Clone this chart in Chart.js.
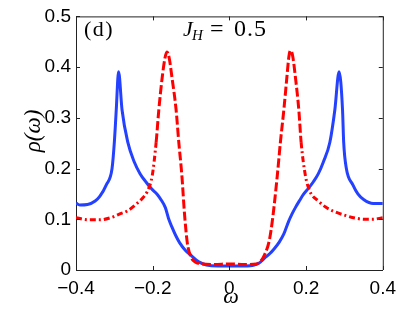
<!DOCTYPE html>
<html>
<head>
<meta charset="utf-8">
<script src="https://cdn.jsdelivr.net/npm/chart.js@4/dist/chart.umd.min.js"></script>
<style>
  html, body { margin: 0; padding: 0; background: #fff; }
  #wrap { width: 403px; height: 330px; }
</style>
</head>
<body>
<div id="wrap"><canvas id="c" width="403" height="330"></canvas></div>
<script>
// density of states, J_H = 0.5
const blueW = [-0.40, -0.39, -0.37, -0.35, -0.338, -0.321, -0.306, -0.300, -0.295, -0.289, -0.280, -0.265, -0.248, -0.233, -0.218, -0.203, -0.188, -0.177, -0.167, -0.158, -0.15, -0.14, -0.13, -0.115, -0.10, -0.08, -0.06, -0.03, 0, 0.03, 0.06, 0.07, 0.08, 0.091, 0.105, 0.117, 0.13, 0.142, 0.155, 0.163, 0.172, 0.183, 0.193, 0.206, 0.219, 0.232, 0.245, 0.262, 0.275, 0.286, 0.295, 0.298, 0.305, 0.322, 0.335, 0.35, 0.375, 0.40];
const blueRho = [0.132, 0.128, 0.129, 0.136, 0.145, 0.168, 0.20, 0.252, 0.316, 0.391, 0.316, 0.252, 0.213, 0.19, 0.174, 0.16, 0.149, 0.137, 0.123, 0.100, 0.085, 0.068, 0.054, 0.039, 0.029, 0.016, 0.010, 0.008, 0.008, 0.008, 0.009, 0.011, 0.015, 0.023, 0.032, 0.042, 0.055, 0.071, 0.097, 0.11, 0.123, 0.137, 0.149, 0.161, 0.174, 0.19, 0.213, 0.252, 0.316, 0.391, 0.316, 0.252, 0.20, 0.168, 0.150, 0.139, 0.131, 0.131];

const redW = [-0.40, -0.37, -0.338, -0.31, -0.287, -0.265, -0.244, -0.225, -0.214, -0.201, -0.191, -0.184, -0.175, -0.168, -0.163, -0.157, -0.150, -0.139, -0.132, -0.124, -0.117, -0.110, -0.102, -0.09, -0.07, -0.04, 0, 0.04, 0.07, 0.08, 0.091, 0.104, 0.112, 0.125, 0.133, 0.142, 0.150, 0.155, 0.159, 0.165, 0.172, 0.181, 0.187, 0.198, 0.210, 0.232, 0.251, 0.271, 0.305, 0.33, 0.355, 0.374, 0.40];
const redRho = [0.103, 0.099, 0.099, 0.103, 0.110, 0.117, 0.129, 0.143, 0.155, 0.187, 0.252, 0.316, 0.381, 0.418, 0.430, 0.418, 0.381, 0.316, 0.252, 0.187, 0.110, 0.055, 0.029, 0.016, 0.012, 0.011, 0.012, 0.011, 0.012, 0.016, 0.029, 0.058, 0.097, 0.187, 0.252, 0.316, 0.381, 0.420, 0.433, 0.422, 0.381, 0.316, 0.252, 0.187, 0.155, 0.136, 0.124, 0.116, 0.107, 0.102, 0.100, 0.100, 0.103];

const xTicks = [-0.4, -0.2, 0, 0.2, 0.4];
const yTicks = [0, 0.1, 0.2, 0.3, 0.4, 0.5];

function pts(w, r) {
  return w.map((x, i) => ({ x: x, y: r[i] }));
}
function fmt(v) {
  const r = Math.round(v * 10) / 10;
  if (r === 0) return '0';
  return (r < 0 ? '\u2212' : '') + Math.abs(r);
}

const frame = {
  id: 'frame',
  afterDraw(chart) {
    const ctx = chart.ctx;
    const a = chart.chartArea;
    const xs = chart.scales.x, ys = chart.scales.y;
    ctx.save();
    ctx.strokeStyle = '#222';
    ctx.lineWidth = 1;
    ctx.beginPath();
    ctx.moveTo(a.left, a.top + 0.5);
    ctx.lineTo(a.right + 0.5, a.top + 0.5);
    ctx.lineTo(a.right + 0.5, a.bottom);
    // inward ticks on all four sides
    xTicks.forEach(v => {
      const p = Math.round(xs.getPixelForValue(v)) + 0.5;
      ctx.moveTo(p, a.bottom); ctx.lineTo(p, a.bottom - 4);
      ctx.moveTo(p, a.top); ctx.lineTo(p, a.top + 4);
    });
    yTicks.forEach(v => {
      const p = Math.round(ys.getPixelForValue(v)) + 0.5;
      ctx.moveTo(a.left, p); ctx.lineTo(a.left + 4, p);
      ctx.moveTo(a.right, p); ctx.lineTo(a.right - 4, p);
    });
    ctx.stroke();

    ctx.fillStyle = '#000';
    ctx.textBaseline = 'alphabetic';
    ctx.textAlign = 'left';
    // panel label
    ctx.font = '22px "Liberation Serif"';
    ctx.letterSpacing = '1.5px';
    ctx.fillText('(d)', 84, 36);
    ctx.letterSpacing = '0px';
    // J_H = 0.5
    ctx.font = 'italic 22px "Liberation Serif"';
    ctx.fillText('J', 183, 36);
    ctx.font = 'italic 15px "Liberation Serif"';
    ctx.fillText('H', 192, 40);
    ctx.font = '24px "Liberation Serif"';
    ctx.fillText('=', 210, 36);
    ctx.letterSpacing = '1px';
    ctx.fillText('0.5', 234, 36);
    ctx.letterSpacing = '0px';
    // axis titles
    ctx.textAlign = 'center';
    ctx.font = 'italic 22px "Liberation Serif"';
    ctx.fillText('\u03c9', 231, 303);
    ctx.translate(40, 131);
    ctx.rotate(-Math.PI / 2);
    ctx.font = 'italic 23px "Liberation Serif"';
    ctx.fillText('\u03c1(\u03c9)', 0, 0);
    ctx.restore();
  }
};

new Chart(document.getElementById('c'), {
  type: 'line',
  data: {
    datasets: [
      {
        data: pts(redW, redRho),
        borderColor: 'rgb(255,0,0)',
        borderWidth: 3,
        borderDash: [6, 3, 2, 3],
        segment: {
          borderDash: ctx => (Math.abs(ctx.p0.parsed.x) < 0.195 && Math.abs(ctx.p1.parsed.x) < 0.195) ? [9, 3] : [6, 3, 2, 3]
        },
        pointRadius: 0,
        cubicInterpolationMode: 'monotone',
        fill: false
      },
      {
        data: pts(blueW, blueRho),
        borderColor: 'rgb(35,65,255)',
        borderWidth: 3,
        pointRadius: 0,
        cubicInterpolationMode: 'monotone',
        fill: false
      }
    ]
  },
  options: {
    responsive: false,
    animation: false,
    layout: { padding: { left: 0, top: 12, right: 16, bottom: 0 } },
    plugins: { legend: { display: false }, tooltip: { enabled: false } },
    scales: {
      x: {
        type: 'linear',
        min: -0.4, max: 0.4,
        afterFit: s => { s.height = 60; },
        afterBuildTicks: s => { s.ticks = xTicks.map(v => ({ value: v })); },
        grid: { display: false, drawTicks: false },
        border: { display: true, color: '#222', width: 1 },
        ticks: {
          color: '#000',
          padding: 7,
          maxRotation: 0,
          font: { family: '"Liberation Sans"', size: 19 },
          callback: v => fmt(v)
        }
      },
      y: {
        min: 0, max: 0.5,
        afterFit: s => { s.width = 76; },
        afterBuildTicks: s => { s.ticks = yTicks.map(v => ({ value: v })); },
        grid: { display: false, drawTicks: false },
        border: { display: true, color: '#222', width: 1 },
        ticks: {
          color: '#000',
          padding: 5,
          font: { family: '"Liberation Sans"', size: 19 },
          callback: v => fmt(v)
        }
      }
    }
  },
  plugins: [frame]
});
</script>
</body>
</html>
